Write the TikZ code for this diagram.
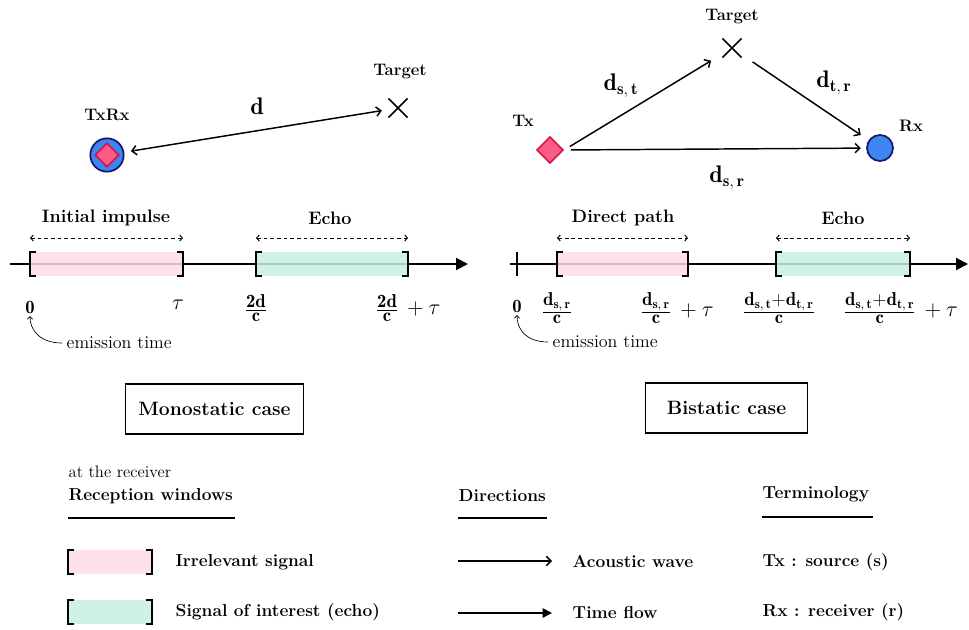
\RequirePackage{fix-cm}
\documentclass[tikz,border=0pt]{standalone}
\usepackage{fontspec}
\usepackage{amsmath}
\usetikzlibrary{arrows.meta,positioning,shapes.geometric,shapes.misc}
\definecolor{winpink}{HTML}{FDDAE9}
\definecolor{wingreen}{HTML}{C8EEE4}
\definecolor{rxblue}{HTML}{3D86F2}
\definecolor{rxnavy}{HTML}{111A6A}
\definecolor{txpink}{HTML}{F95C86}
\definecolor{txred}{HTML}{DC143C}
\tikzset{
  sensor/.style={circle, draw=rxnavy, fill=rxblue, line width=1.3pt, inner sep=0pt},
  emitter/.style={diamond, draw=txred, fill=txpink, line width=1.2pt, inner sep=0pt},
  target/.style={cross out, draw, line width=1.3pt, minimum size=13pt, inner sep=0pt},
  tag/.style={font=\fontsize{12.5}{14}\selectfont\bfseries},
  dist/.style={font=\fontsize{18}{21}\selectfont},
  head/.style={font=\fontsize{13.5}{16}\selectfont\bfseries},
  tick/.style={font=\fontsize{16.5}{19}\selectfont, inner sep=1pt},
  note/.style={font=\fontsize{13.5}{16}\selectfont, anchor=west},
  legend/.style={font=\fontsize{13}{15}\selectfont\bfseries, anchor=west},
  casebox/.style={draw, line width=0.8pt, font=\fontsize{14.5}{17}\selectfont\bfseries},
  wave/.style={line width=1.1pt, -{Straight Barb[length=3.5pt,width=7pt]}},
  twoway/.style={line width=1.1pt, {Straight Barb[length=3.5pt,width=7pt]}-{Straight Barb[length=3.5pt,width=7pt]}},
  timeflow/.style={line width=1.5pt, -{Triangle[length=9pt,width=9pt]}},
  span/.style={line width=0.7pt, dash pattern=on 2.8pt off 2.2pt, {Straight Barb[length=2pt,width=4.5pt]}-{Straight Barb[length=2pt,width=4.5pt]}},
  bracket/.style={line width=1.8pt, line join=miter},
  rule/.style={line width=1pt},
}
% reception window: left x, right x, axis y, colour
\def\recwin#1#2#3#4{%
  \fill[#4, fill opacity=0.85] (#1,#3-12) rectangle (#2,#3+12);
  \draw[bracket] (#1+6,#3-12) -- (#1,#3-12) -- (#1,#3+12) -- (#1+6,#3+12);
  \draw[bracket] (#2-6,#3-12) -- (#2,#3-12) -- (#2,#3+12) -- (#2-6,#3+12);}
\def\dd#1{\mathbf{d}_{\mathbf{#1}}}
\newcommand\frc[2]{{\fontsize{14}{16}\selectfont$\frac{\textstyle #1}{\textstyle #2}$}}

\begin{document}
\begin{tikzpicture}[x=0.75pt, y=-0.75pt]
  \useasboundingbox (0,0) rectangle (969,630);
  %%%%% MONOSTATIC %%%%%
  \node[sensor, minimum size=25pt] (txrx) at (107,155) {};
  \node[emitter, minimum size=18pt] (txrx-in) at (107,155) {};
  \node[tag] (txrx-lbl) at (107,115) {TxRx};
  \node[target] (m-target) at (398,108) {};
  \node[tag] (m-target-lbl) at (400,72) {Target};
  \draw[twoway, shorten <=5pt, shorten >=5pt] (txrx) -- (m-target);
  \node[dist] (m-d) at (257,106) {$\mathbf{d}$};

  \coordinate (m-t0) at (10,264);
  \coordinate (m-t1) at (468,264);
  \draw[timeflow] (m-t0) -- (m-t1);
  \recwin{30}{183}{264}{winpink}
  \recwin{256}{408}{264}{wingreen}
  \draw[span] (30,238) -- (183,238);
  \draw[span] (256,238) -- (408,238);
  \node[head] (m-impulse) at (106,218) {Initial impulse};
  \node[head] (m-echo) at (330,218) {Echo};

  \node[tick, font=\fontsize{14}{16}\selectfont] (m-zero) at (30,307) {$\mathbf{0}$};
  \node[tick] (m-tau) at (178,305) {$\tau$};
  \node[tick] (m-2dc) at (256,308) {\frc{\mathbf{2d}}{\mathbf{c}}};
  \node[tick, anchor=west] (m-2dct) at (374,308) {\frc{\mathbf{2d}}{\mathbf{c}}$\,{}+\tau$};
  \node[note] (m-emit) at (62,343) {emission time};
  \draw[line width=0.5pt, -{Straight Barb[length=2pt,width=4pt]}]
    (m-emit.west) .. controls +(-22,0) and +(0,14) .. ([yshift=-1pt]m-zero.south);

  \node[casebox, minimum width=133pt, minimum height=37.5pt] (mono) at (214.5,409) {Monostatic case};

  %%%%% BISTATIC %%%%%
  \node[emitter, minimum size=20pt] (tx) at (550,150) {};
  \node[tag] (tx-lbl) at (523,121) {Tx};
  \node[target] (b-target) at (732,48) {};
  \node[tag] (b-target-lbl) at (732,17) {Target};
  \node[sensor, minimum size=19.5pt] (rx) at (880,148) {};
  \node[tag] (rx-lbl) at (911,126) {Rx};
  \draw[wave, shorten <=5pt, shorten >=10pt] (tx.east) -- (b-target);
  \draw[wave, shorten <=10pt, shorten >=7pt] (b-target) -- (rx);
  \draw[wave, shorten <=5pt, shorten >=4pt] (tx.east) -- (rx);
  \node[dist] (d-st) at (621,86) {$\dd{s,\,t}$};
  \node[dist] (d-tr) at (834,83) {$\dd{t,\,r}$};
  \node[dist] (d-sr) at (727,178) {$\dd{s,\,r}$};

  \coordinate (b-t0) at (510,264);
  \coordinate (b-t1) at (968,264);
  \draw[timeflow] (b-t0) -- (b-t1);
  \draw[line width=1.5pt] (517,252) -- (517,276);
  \recwin{557}{688}{264}{winpink}
  \recwin{776}{910}{264}{wingreen}
  \draw[span] (557,238) -- (688,238);
  \draw[span] (776,238) -- (910,238);
  \node[head] (b-direct) at (623,218) {Direct path};
  \node[head] (b-echo) at (843,218) {Echo};

  \node[tick, font=\fontsize{14}{16}\selectfont] (b-zero) at (517,306) {$\mathbf{0}$};
  \node[tick] (b-dsr) at (557,308) {\frc{\dd{s,\,r}}{\mathbf{c}}};
  \node[tick, anchor=west] (b-dsrt) at (639,308) {\frc{\dd{s,\,r}}{\mathbf{c}}$\,{}+\tau$};
  \node[tick] (b-dstr) at (779,308) {\frc{\dd{s,\,t}{+}\dd{t,\,r}}{\mathbf{c}}};
  \node[tick, anchor=west] (b-dstrt) at (842,308) {\frc{\dd{s,\,t}{+}\dd{t,\,r}}{\mathbf{c}}$\,{}+\tau$};
  \node[note] (b-emit) at (548,342) {emission time};
  \draw[line width=0.5pt, -{Straight Barb[length=2pt,width=4pt]}]
    (b-emit.west) .. controls +(-22,0) and +(0,14) .. ([yshift=-1pt]b-zero.south);

  \node[casebox, minimum width=122pt, minimum height=37.5pt] (bi) at (726.5,408) {Bistatic case};

  %%%%% LEGEND %%%%%
  \node[note, font=\fontsize{12.5}{14}\selectfont] (recv) at (64,472) {at the receiver};
  \node[legend] (recwin-h) at (64,496) {Reception windows};
  \draw[rule] (68,518) -- (235,518);
  \recwin{68}{152}{562}{winpink}
  \recwin{68}{152}{612}{wingreen}
  \node[legend] (irr) at (171,562) {Irrelevant signal};
  \node[legend] (soi) at (171,612) {Signal of interest (echo)};

  \node[legend] (dir-h) at (454,496) {Directions};
  \draw[rule] (458,518) -- (547,518);
  \coordinate (aw0) at (458,561);
  \coordinate (aw1) at (552,561);
  \draw[wave] (aw0) -- (aw1);
  \node[legend] (aw) at (568,561) {Acoustic wave};
  \coordinate (tf0) at (458,613);
  \coordinate (tf1) at (552,613);
  \draw[line width=1.1pt, -{Triangle[length=7pt,width=7pt]}] (tf0) -- (tf1);
  \node[legend] (tf) at (568,612) {Time flow};

  \node[legend] (term-h) at (758,494) {Terminology};
  \draw[rule] (762,517) -- (873,517);
  \node[legend] (tx-def) at (758,562) {Tx : source (s)};
  \node[legend] (rx-def) at (758,612) {Rx : receiver (r)};
\end{tikzpicture}
\end{document}
